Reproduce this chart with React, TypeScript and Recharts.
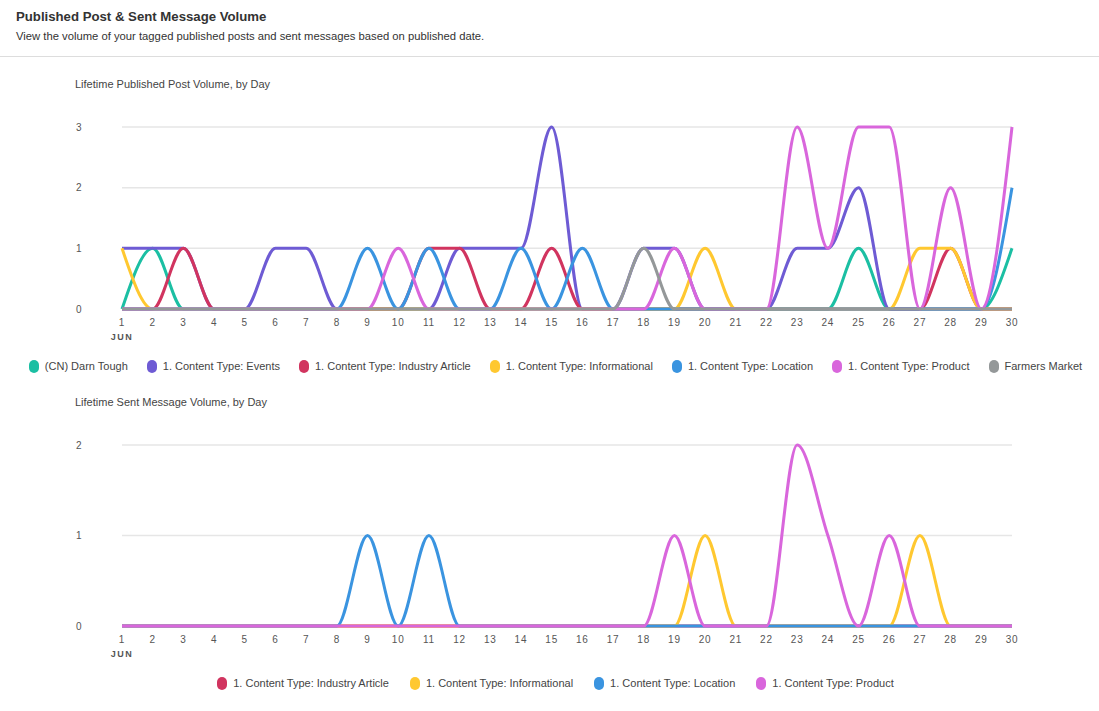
import React from 'react'
import { LineChart, Line, XAxis, YAxis, CartesianGrid, Legend } from 'recharts'

const days = Array.from({ length: 30 }, (_, i) => i + 1)

// published posts per day
const darnTough    = [0,1,0,0,0,0,0,0,0,0, 0,0,0,0,0,0,0,0,0,0, 0,0,0,0,1,0,0,0,0,1]
const events       = [1,1,1,0,0,1,1,0,0,0, 0,1,1,1,3,0,0,1,1,0, 0,0,1,1,2,0,0,0,0,0]
const industry     = [0,0,1,0,0,0,0,0,0,0, 1,1,0,0,1,0,0,0,0,0, 0,0,0,0,0,0,0,1,0,0]
const informational= [1,0,0,0,0,0,0,0,0,0, 0,0,0,0,0,0,0,0,0,1, 0,0,0,0,0,0,1,1,0,0]
const location     = [0,0,0,0,0,0,0,0,1,0, 1,0,0,1,0,1,0,0,0,0, 0,0,0,0,0,0,0,0,0,2]
const product      = [0,0,0,0,0,0,0,0,0,1, 0,0,0,0,0,0,0,0,1,0, 0,0,3,1,3,3,0,2,0,3]
const farmers      = [0,0,0,0,0,0,0,0,0,0, 0,0,0,0,0,0,0,1,0,0, 0,0,0,0,0,0,0,0,0,0]

// sent messages per day
const msgIndustry      = [0,0,0,0,0,0,0,0,0,0, 0,0,0,0,0,0,0,0,0,0, 0,0,0,0,0,0,0,0,0,0]
const msgInformational = [0,0,0,0,0,0,0,0,0,0, 0,0,0,0,0,0,0,0,0,1, 0,0,0,0,0,0,1,0,0,0]
const msgLocation      = [0,0,0,0,0,0,0,0,1,0, 1,0,0,0,0,0,0,0,0,0, 0,0,0,0,0,0,0,0,0,0]
const msgProduct       = [0,0,0,0,0,0,0,0,0,0, 0,0,0,0,0,0,0,0,1,0, 0,0,2,1,0,1,0,0,0,0]

const postTicks = [0, 1, 2, 3]
const msgTicks = [0, 1, 2]

const COLORS = {
    darn: '#1bbfa3',
    events: '#6e5bd4',
    industry: '#d1345f',
    info: '#ffc830',
    location: '#3a94e0',
    product: '#d966dc',
    farmers: '#949899',
}

const postSeries = [
    { key: 'darn', name: '(CN) Darn Tough', color: COLORS.darn, values: darnTough },
    { key: 'events', name: '1. Content Type: Events', color: COLORS.events, values: events },
    { key: 'industry', name: '1. Content Type: Industry Article', color: COLORS.industry, values: industry },
    { key: 'info', name: '1. Content Type: Informational', color: COLORS.info, values: informational },
    { key: 'location', name: '1. Content Type: Location', color: COLORS.location, values: location },
    { key: 'product', name: '1. Content Type: Product', color: COLORS.product, values: product },
    { key: 'farmers', name: 'Farmers Market', color: COLORS.farmers, values: farmers },
]

const msgSeries = [
    { key: 'industry', name: '1. Content Type: Industry Article', color: COLORS.industry, values: msgIndustry },
    { key: 'info', name: '1. Content Type: Informational', color: COLORS.info, values: msgInformational },
    { key: 'location', name: '1. Content Type: Location', color: COLORS.location, values: msgLocation },
    { key: 'product', name: '1. Content Type: Product', color: COLORS.product, values: msgProduct },
]

type Series = { key: string; name: string; color: string; values: number[] }

const toRows = (series: Series[]) =>
    days.map((day, i) => {
        const row: Record<string, number> = { day }
        series.forEach(s => { row[s.key] = s.values[i] })
        return row
    })

const FONT = '"Liberation Sans", Arial, sans-serif'

const DayTick = (props: any) => {
    const { x, y, payload } = props
    return (
        <g>
            <text x={x} y={y + 9} textAnchor="middle" fontSize={10} fill="#555" fontFamily={FONT} letterSpacing={0.8}>
                {payload.value}
            </text>
            {payload.value === 1 && (
                <text x={x} y={y + 23} textAnchor="middle" fontSize={9} fontWeight={700} fill="#555" fontFamily={FONT} letterSpacing={1.5}>
                    JUN
                </text>
            )}
        </g>
    )
}

const CountTick = (props: any) => {
    const { y, payload } = props
    return (
        <text x={76} y={y + 3.5} textAnchor="start" fontSize={10} fill="#555" fontFamily={FONT}>
            {payload.value}
        </text>
    )
}

const LegendRow = ({ series, gap }: { series: Series[]; gap: number }) => (
    <div style={{ display: 'flex', justifyContent: 'center', alignItems: 'center', height: 24, whiteSpace: 'nowrap', fontFamily: FONT, fontSize: 11, color: '#444' }}>
        {series.map(s => (
            <div key={s.key} style={{ display: 'flex', alignItems: 'center', margin: `0 ${gap}px` }}>
                <span style={{ width: 10, height: 13, borderRadius: 5, background: s.color, marginRight: 6 }} />
                <span>{s.name}</span>
            </div>
        ))}
    </div>
)

const VolumeChart = ({ series, ticks, height, top, gap }: { series: Series[]; ticks: number[]; height: number; top: number; gap: number }) => (
    <LineChart width={1099} height={height} data={toRows(series)} margin={{ top, right: 87, left: 0, bottom: 0 }}>
        <CartesianGrid vertical={false} stroke="#e6e6e6" strokeWidth={1.5} />
        <XAxis dataKey="day" axisLine={false} tickLine={false} tick={<DayTick />} height={45} interval={0} />
        <YAxis width={122} axisLine={false} tickLine={false} domain={[0, ticks[ticks.length - 1]]} ticks={ticks} tick={<CountTick />} />
        <Legend
            verticalAlign="bottom"
            wrapperStyle={{ width: 1099, left: 6 }}
            content={() => <LegendRow series={series} gap={gap} />}
        />
        {series.map(s => (
            <Line
                key={s.key}
                type="monotone"
                dataKey={s.key}
                name={s.name}
                stroke={s.color}
                strokeWidth={3}
                dot={false}
                activeDot={false}
                isAnimationActive={false}
            />
        ))}
    </LineChart>
)

const titleStyle: React.CSSProperties = { position: 'absolute', left: 75, fontSize: 11, color: '#444', fontFamily: FONT }

export default function App() {
    return (
        <div style={{ position: 'absolute', left: 0, top: 0, width: 1099, height: 711, background: '#fff', fontFamily: FONT }}>
            <div style={{ position: 'absolute', left: 16, top: 9, fontSize: 13.2, fontWeight: 700, color: '#333' }}>
                Published Post &amp; Sent Message Volume
            </div>
            <div style={{ position: 'absolute', left: 16, top: 30, fontSize: 11.25, color: '#333' }}>
                View the volume of your tagged published posts and sent messages based on published date.
            </div>
            <div style={{ position: 'absolute', left: 0, top: 56, width: 1099, height: 1, background: '#ddd' }} />

            <div style={{ ...titleStyle, top: 78 }}>Lifetime Published Post Volume, by Day</div>
            <div style={{ position: 'absolute', left: 0, top: 110 }}>
                <VolumeChart series={postSeries} ticks={postTicks} height={268} top={17} gap={9.5} />
            </div>

            <div style={{ ...titleStyle, top: 396 }}>Lifetime Sent Message Volume, by Day</div>
            <div style={{ position: 'absolute', left: 0, top: 420 }}>
                <VolumeChart series={msgSeries} ticks={msgTicks} height={275} top={25} gap={10.5} />
            </div>
        </div>
    )
}
